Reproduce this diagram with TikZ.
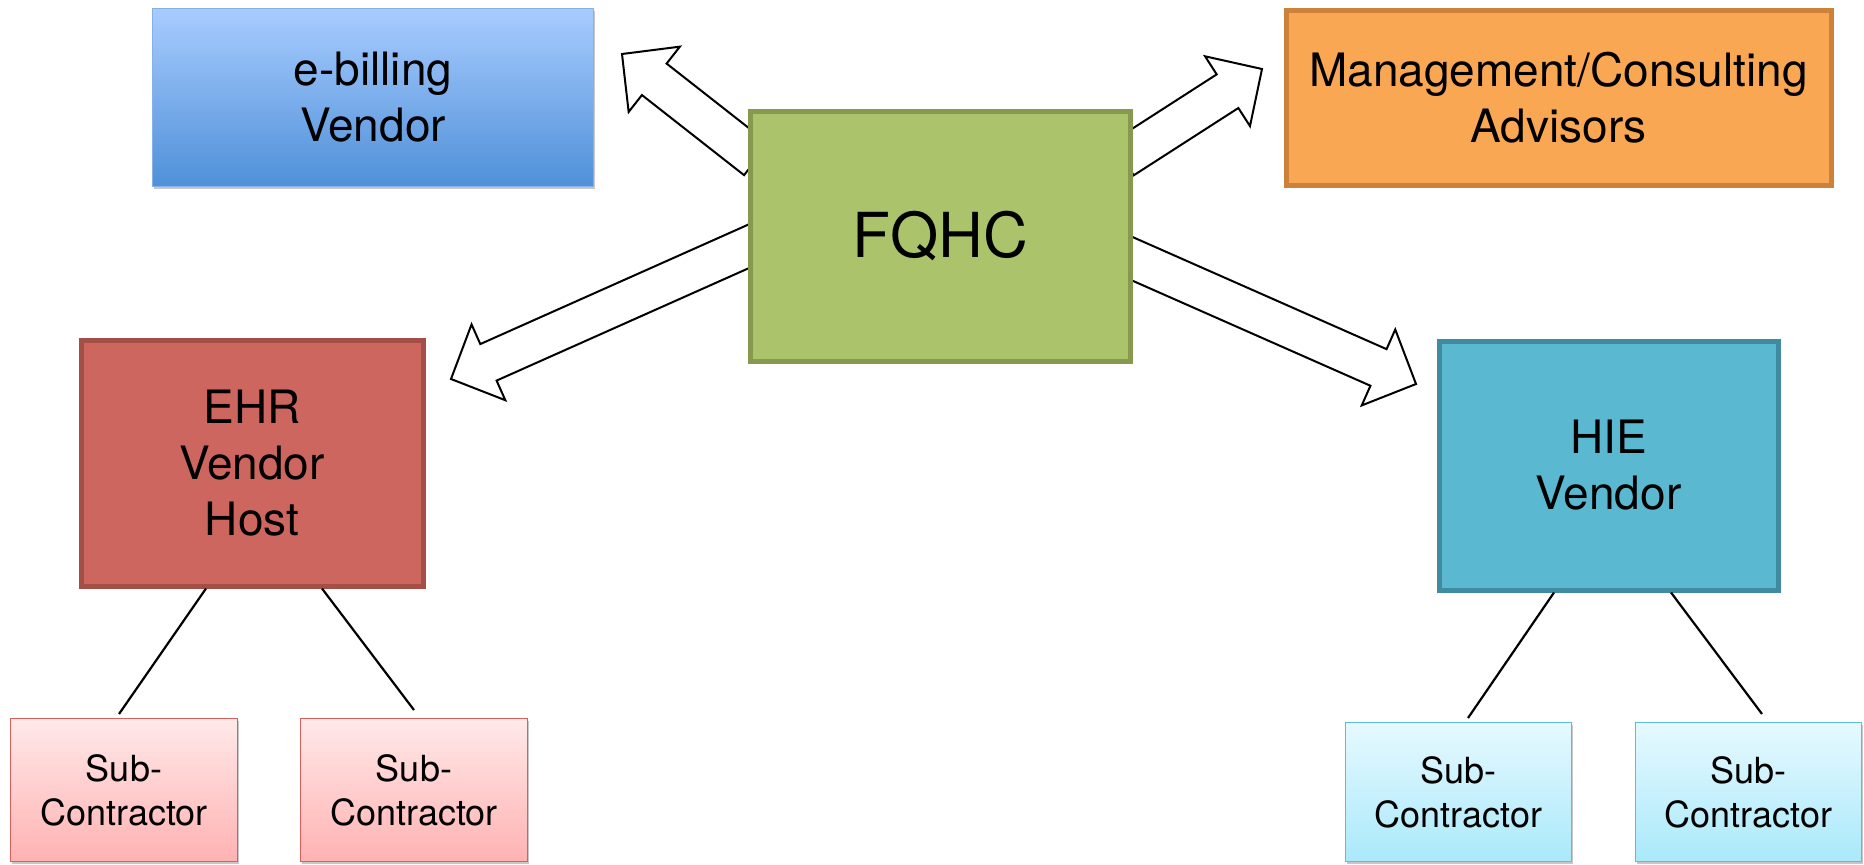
\documentclass[tikz,border=0pt]{standalone}
\usepackage{fontspec}
\setmainfont{TeX Gyre Heros}
\usetikzlibrary{calc,backgrounds,shadows}
\definecolor{fqhcfill}{HTML}{ABC46C}
\definecolor{fqhcdraw}{HTML}{86994F}
\definecolor{ehrfill}{HTML}{CD665F}
\definecolor{ehrdraw}{HTML}{A44E48}
\definecolor{hiefill}{HTML}{5BB8D1}
\definecolor{hiedraw}{HTML}{3F8CA1}
\definecolor{mgmtfill}{HTML}{F9A753}
\definecolor{mgmtdraw}{HTML}{CD823C}
\definecolor{ebilltop}{HTML}{A8CCFF}
\definecolor{ebillbot}{HTML}{4F90D8}
\definecolor{ebilldraw}{HTML}{86B0E6}
\definecolor{srtop}{HTML}{FFE9E9}
\definecolor{srbot}{HTML}{FFB2B2}
\definecolor{srdraw}{HTML}{D8605C}
\definecolor{sbtop}{HTML}{E6F9FF}
\definecolor{sbbot}{HTML}{AAE9FB}
\definecolor{sbdraw}{HTML}{5DBCD6}
\newcommand{\blkarrow}[3]{%
  \coordinate (#3n) at ($(#2)!20.5pt!(#1)$);
  \filldraw[blockarr] ($(#1)!10pt!90:(#2)$) -- ($(#3n)!10pt!90:(#2)$)
    -- ($(#3n)!20.75pt!90:(#2)$) -- (#2) -- ($(#3n)!20.75pt!-90:(#2)$)
    -- ($(#3n)!10pt!-90:(#2)$) -- ($(#1)!10pt!-90:(#2)$) -- cycle;}
\tikzset{
  sz/.style 2 args={minimum width=#1*0.5pt, minimum height=#2*0.5pt, inner sep=0pt},
  mainbox/.style={rectangle, align=center, font=\fontsize{23}{28}\selectfont, line width=2.5pt},
  thinshadow/.style={drop shadow={shadow xshift=0.6pt, shadow yshift=-1.4pt, opacity=0.22, fill=black}},
  subbox/.style={rectangle, align=center, font=\fontsize{18}{22}\selectfont, line width=0.7pt, thinshadow},
  redsub/.style={subbox, draw=srdraw, top color=srtop, bottom color=srbot},
  bluesub/.style={subbox, draw=sbdraw, top color=sbtop, bottom color=sbbot},
  blockarr/.style={draw=black, fill=white, line width=1pt, line join=miter},
  conn/.style={draw=black, line width=1.1pt},
}
\begin{document}
\begin{tikzpicture}[x=0.5pt, y=-0.5pt]
\useasboundingbox (0,0) rectangle (1864,864);
% main boxes
\node[mainbox, sz={441}{178}, draw=ebilldraw, line width=0.6pt, top color=ebilltop, bottom color=ebillbot, thinshadow] (ebill) at (373,97.5) {e-billing\\Vendor};
\node[mainbox, sz={545}{175}, draw=mgmtdraw, fill=mgmtfill] (mgmt) at (1558.5,97.5) {Management/Consulting\\Advisors};
\node[mainbox, sz={380}{250}, draw=fqhcdraw, fill=fqhcfill, font=\fontsize{31}{36}\selectfont] (fqhc) at (940,236) {FQHC};
\node[mainbox, sz={342}{246}, draw=ehrdraw, fill=ehrfill] (ehr) at (252,463) {EHR\\Vendor\\Host};
\node[mainbox, sz={339}{249}, draw=hiedraw, fill=hiefill] (hie) at (1608.5,465.5) {HIE\\Vendor};
% sub-contractors
\node[redsub, sz={227}{143}] (sr1) at (124,790) {Sub-\\Contractor};
\node[redsub, sz={227}{143}] (sr2) at (414,790) {Sub-\\Contractor};
\node[bluesub, sz={226}{139}] (sb1) at (1458.5,792) {Sub-\\Contractor};
\node[bluesub, sz={226}{139}] (sb2) at (1748.5,792) {Sub-\\Contractor};
% block arrows (behind the FQHC box)
\coordinate (a1s) at (756.4,159.4);
\coordinate (a1t) at (622,54);
\coordinate (a2s) at (1122.9,158.5);
\coordinate (a2t) at (1262,69);
\coordinate (a3s) at (757,242.6);
\coordinate (a3t) at (451,379);
\coordinate (a4s) at (1122,254.2);
\coordinate (a4t) at (1416,384);
\begin{pgfonlayer}{background}
\blkarrow{a1s}{a1t}{aa}
\blkarrow{a2s}{a2t}{ab}
\blkarrow{a3s}{a3t}{ac}
\blkarrow{a4s}{a4t}{ad}
\end{pgfonlayer}
% connector lines to sub-contractors
\coordinate (e1) at (119,714);
\coordinate (e2) at (414,710);
\coordinate (h1) at (1468,718);
\coordinate (h2) at (1762,714);
\draw[conn] ([xshift=-23pt]ehr.south) -- (e1);
\draw[conn] ([xshift=35pt]ehr.south) -- (e2);
\draw[conn] ([xshift=-27.25pt]hie.south) -- (h1);
\draw[conn] ([xshift=31.25pt]hie.south) -- (h2);
\end{tikzpicture}
\end{document}
